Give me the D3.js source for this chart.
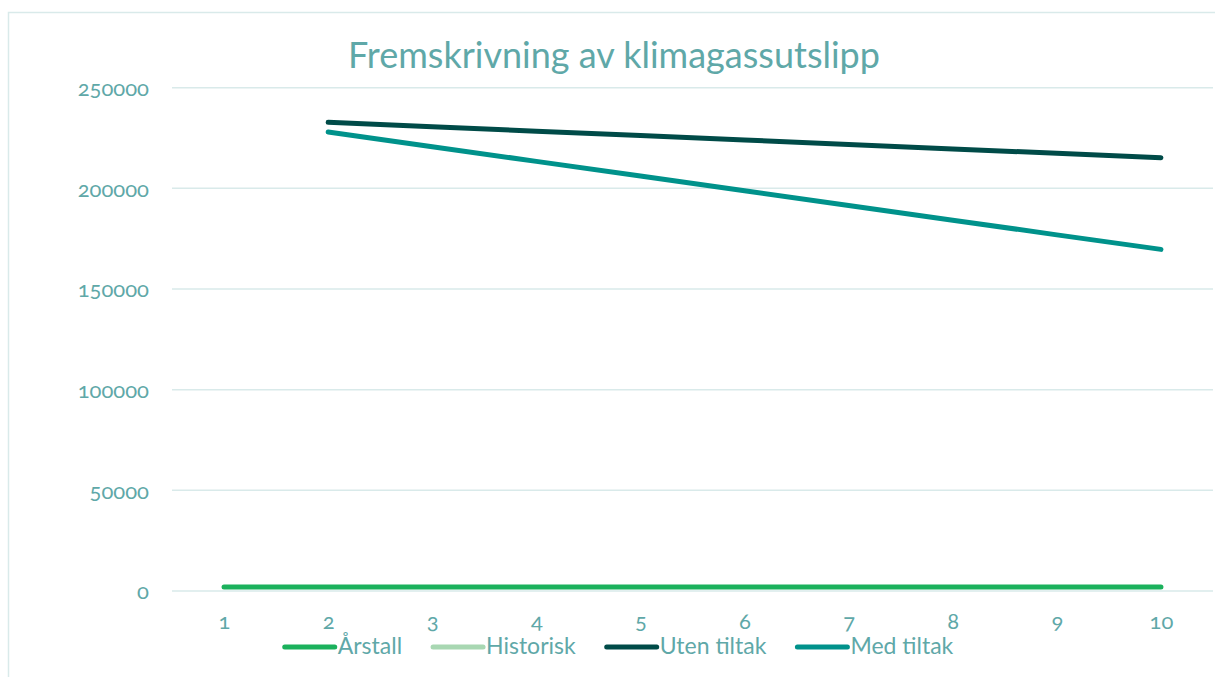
<!DOCTYPE html>
<html>
<head>
<meta charset="utf-8">
<script src="https://cdn.jsdelivr.net/npm/d3@7"></script>
<style>
  body { margin: 0; background: #fff; }
  svg text { font-family: Lato, "Open Sans", sans-serif; font-variant-numeric: oldstyle-nums; }
</style>
</head>
<body>
<div id="chart"></div>
<script>
// data
var categories = [1, 2, 3, 4, 5, 6, 7, 8, 9, 10]
var aarstall = [2021, 2022, 2023, 2024, 2025, 2026, 2027, 2028, 2029, 2030]
var historisk = [null, null, null, null, null, null, null, null, null, null]
var utenTiltak = [null, 232800, 230600, 228400, 226200, 224000, 221800, 219600, 217400, 215200]
var medTiltak = [null, 228000, 220700, 213400, 206100, 198800, 191500, 184200, 176900, 169700]
var yTicks = [0, 50000, 100000, 150000, 200000, 250000]

var seriesNames = ["Årstall", "Historisk", "Uten tiltak", "Med tiltak"]
var seriesValues = [aarstall, historisk, utenTiltak, medTiltak]
var seriesColors = ["#1bb15c", "#a8d7b2", "#004b48", "#00928b"]

var textColor = "#5fa8a8"
var gridColor = "#d9eaea"

var W = 1215, H = 677
var svg = d3.select("#chart").append("svg")
    .attr("width", W)
    .attr("height", H)

// outer chart frame
svg.append("rect")
    .attr("x", 8.5).attr("y", 12.5)
    .attr("width", W + 20).attr("height", H + 20)
    .attr("fill", "none")
    .attr("stroke", gridColor)
    .attr("stroke-width", 1.5)

var x = d3.scalePoint()
    .domain(categories)
    .range([172, 1213])
    .padding(0.5)

var y = d3.scaleLinear()
    .domain([0, 250000])
    .range([591, 87.7])

// gridlines
svg.append("g")
    .selectAll("line")
    .data(yTicks)
    .enter()
    .append("line")
    .attr("x1", 172).attr("x2", 1213)
    .attr("y1", function(d) { return y(d) })
    .attr("y2", function(d) { return y(d) })
    .attr("stroke", gridColor)
    .attr("stroke-width", 1.5)

// y axis
var yAxis = svg.append("g")
    .attr("transform", "translate(172,0)")
    .call(d3.axisLeft(y).tickValues(yTicks).tickSize(0).tickPadding(23).tickFormat(d3.format("d")))
yAxis.select(".domain").remove()
yAxis.selectAll("text")
    .attr("fill", textColor)
    .style("font-size", "22px")
    .attr("dy", "0.36em")

// x axis
var xAxis = svg.append("g")
    .attr("transform", "translate(0,591)")
    .call(d3.axisBottom(x).tickSize(0))
xAxis.select(".domain").remove()
xAxis.selectAll("text")
    .attr("fill", textColor)
    .style("font-size", "22px")
    .attr("y", 38)
    .attr("dy", 0)

// lines
var line = d3.line()
    .defined(function(d) { return d != null })
    .x(function(d, i) { return x(categories[i]) })
    .y(function(d) { return y(d) })

for (var i = 0; i < seriesNames.length; i++) {
    svg.append("path")
        .datum(seriesValues[i])
        .attr("fill", "none")
        .attr("stroke", seriesColors[i])
        .attr("stroke-width", 5)
        .attr("stroke-linecap", "round")
        .attr("stroke-linejoin", "round")
        .attr("d", line)
}

// title
svg.append("text")
    .attr("x", 614)
    .attr("y", 68)
    .attr("text-anchor", "middle")
    .attr("fill", textColor)
    .style("font-size", "36px")
    .text("Fremskrivning av klimagassutslipp")

// legend
var legend = svg.append("g")
var lx = 0
for (var i = 0; i < seriesNames.length; i++) {
    var item = legend.append("g").attr("transform", "translate(" + lx + ",0)")
    item.append("line")
        .attr("x1", 2).attr("x2", 52)
        .attr("y1", 647).attr("y2", 647)
        .attr("stroke", seriesColors[i])
        .attr("stroke-width", 5)
        .attr("stroke-linecap", "round")
    var t = item.append("text")
        .attr("x", 55)
        .attr("y", 654)
        .attr("fill", textColor)
        .style("font-size", "23px")
        .text(seriesNames[i])
    lx += 55 + t.node().getComputedTextLength() + 29
}
var legendW = lx - 29
legend.attr("transform", "translate(" + (618 - legendW / 2) + ",0)")
</script>
</body>
</html>
